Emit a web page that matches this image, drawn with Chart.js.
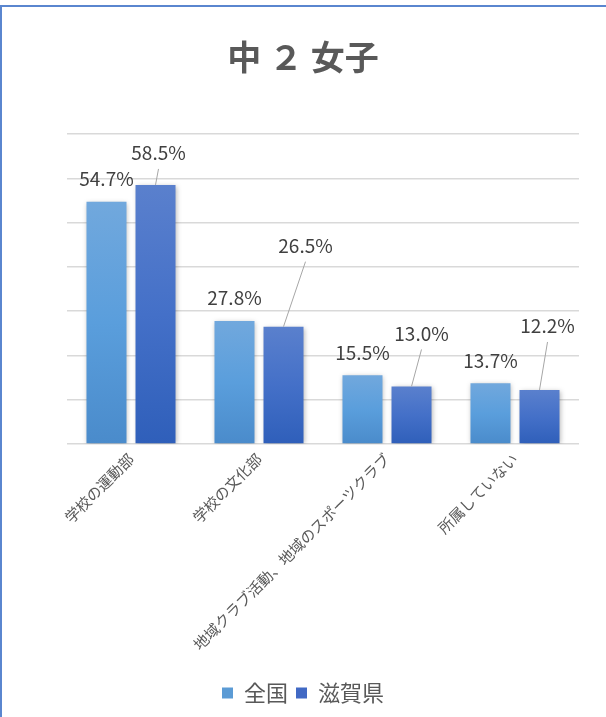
<!DOCTYPE html>
<html lang="ja">
<head>
<meta charset="utf-8">
<script src="https://cdn.jsdelivr.net/npm/chart.js@4"></script>
<style>
  html, body { margin: 0; padding: 0; background: #ffffff; }
  #wrap { position: relative; width: 606px; height: 717px; overflow: hidden; }
  #frame { position: absolute; left: 0; top: 5px; width: 620px; height: 730px;
           border-top: 2px solid #5a86cf; border-left: 2px solid #5a86cf; box-sizing: border-box; }
  #box { position: absolute; left: 0; top: 0; width: 606px; height: 717px; }
</style>
</head>
<body>
<div id="wrap">
  <div id="box"><canvas id="chart"></canvas></div>
  <div id="frame"></div>
</div>
<script>
// ----------------------------------------------------------------------
const categories = ['学校の運動部', '学校の文化部', '地域クラブ活動、地域のスポーツクラブ', '所属していない']
const seriesNames = ['全国', '滋賀県']
const zenkoku = [54.7, 27.8, 15.5, 13.7]
const shiga = [58.5, 26.5, 13.0, 12.2]
const yMax = 70
const yStep = 10

// label offsets (px) from the bar top, 滋賀県 labels use leader lines
const labelShift = [
    [[0, -23], [0, -23], [0, -23], [0, -23]],
    [[3, -32], [22, -81], [10, -53], [8, -64]]
]

const font = '"Noto Sans CJK JP", "Noto Sans", sans-serif'
const textColor = '#595959'

// ----------------------------------------------------------------------
function barGradient (stops)
{
    return function (c)
    {
        const chart = c.chart
        const y = chart.scales.y
        if (!y || c.raw === undefined) return stops[1]
        const top = y.getPixelForValue(c.raw)
        const bottom = y.getPixelForValue(0)
        if (!isFinite(top) || !isFinite(bottom) || bottom - top < 1) return stops[1]
        const g = chart.ctx.createLinearGradient(0, top, 0, bottom)
        g.addColorStop(0, stops[0])
        g.addColorStop(0.5, stops[1])
        g.addColorStop(1, stops[2])
        return g
    }
}

const barShadow = {
    id: 'barShadow',
    beforeDatasetsDraw (chart)
    {
        const ctx = chart.ctx
        ctx.save()
        ctx.shadowColor = 'rgba(0,0,0,0.30)'
        ctx.shadowBlur = 5
        ctx.shadowOffsetX = 1
        ctx.shadowOffsetY = 1
    },
    afterDatasetsDraw (chart)
    {
        chart.ctx.restore()
    }
}

const valueLabels = {
    id: 'valueLabels',
    afterDatasetsDraw (chart)
    {
        const ctx = chart.ctx
        ctx.save()
        ctx.font = '19px ' + font
        ctx.fillStyle = '#404040'
        ctx.textAlign = 'center'
        ctx.textBaseline = 'middle'
        chart.data.datasets.forEach((ds, di) => {
            const meta = chart.getDatasetMeta(di)
            meta.data.forEach((bar, i) => {
                const [dx, dy] = labelShift[di][i]
                const lx = bar.x + dx
                const ly = bar.y + dy
                if (dy < -28) {
                    ctx.strokeStyle = '#a6a6a6'
                    ctx.lineWidth = 1
                    ctx.beginPath()
                    ctx.moveTo(lx, ly + 16)
                    ctx.lineTo(bar.x, bar.y)
                    ctx.stroke()
                }
                ctx.fillText(ds.data[i].toFixed(1) + '%', lx, ly)
            })
        })
        ctx.restore()
    }
}

const legendColors = ['#5b9bd5', '#4169c4']

// ----------------------------------------------------------------------
const config = {
    type: 'bar',
    data: {
        labels: categories,
        datasets: [
            {
            label: seriesNames[0],
            data: zenkoku,
            backgroundColor: barGradient(['#71a8dd', '#5a9edc', '#4a8bcb'])
            },
            {
            label: seriesNames[1],
            data: shiga,
            backgroundColor: barGradient(['#5a80cd', '#4470c8', '#2f5fba'])
            }
        ]
    },
    options: {
        responsive: true,
        maintainAspectRatio: false,
        animation: false,
        categoryPercentage: 0.766,
        barPercentage: 0.816,
        layout: { padding: { left: 27, right: 27, top: 0, bottom: 3 } },
        scales: {
            x: {
                grid: { display: false, drawTicks: false },
                border: { display: false },
                ticks: {
                    maxRotation: 45, minRotation: 45, autoSkip: false, padding: 6,
                    color: textColor, font: { family: font, size: 15 }
                },
                afterFit (scale) { scale.height = 230 }
            },
            y: {
                min: 0, max: yMax,
                ticks: { display: false, stepSize: yStep },
                grid: { color: '#d9d9d9', lineWidth: 1.5, drawTicks: false },
                border: { display: false },
                afterFit (scale) { scale.width = 40 }
            }
        },
        plugins: {
            title: {
                display: true,
                text: '中 ２ 女子',
                color: textColor,
                font: { family: font, size: 34, weight: 'bold', lineHeight: 1.2 },
                padding: { top: 37, bottom: 56.2 }
            },
            legend: {
                position: 'bottom',
                labels: {
                    color: textColor,
                    font: { family: font, size: 22 },
                    boxWidth: 11, boxHeight: 11, padding: 8,
                    generateLabels (chart)
                    {
                        return chart.data.datasets.map((ds, i) => ({
                            text: ds.label,
                            fillStyle: legendColors[i],
                            strokeStyle: legendColors[i],
                            lineWidth: 0,
                            fontColor: textColor,
                            datasetIndex: i
                        }))
                    }
                }
            },
            tooltip: { enabled: false }
        }
    },
    plugins: [barShadow, valueLabels]
}

const chart = new Chart(document.getElementById('chart'), config)
// ----------------------------------------------------------------------
</script>
</body>
</html>
